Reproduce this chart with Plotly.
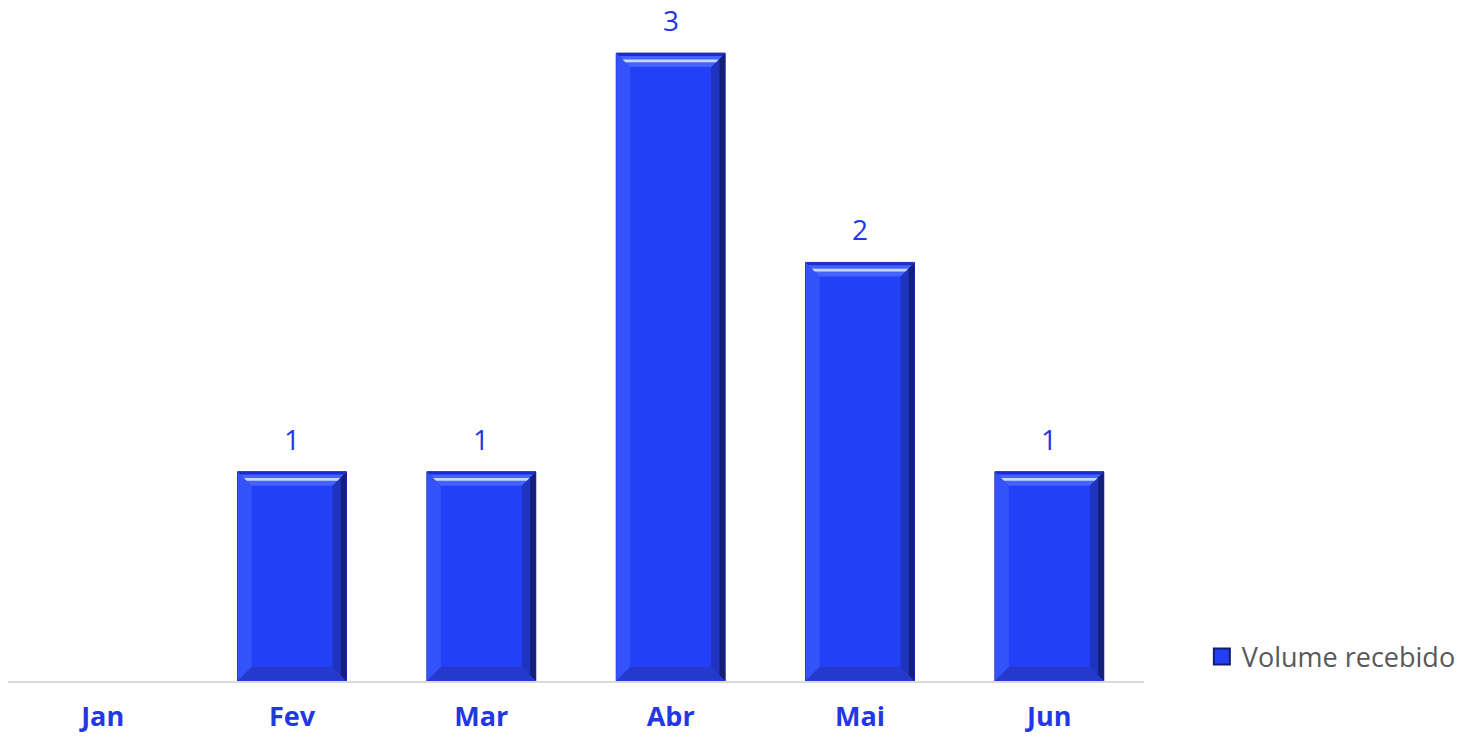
import plotly.graph_objects as go

# Monthly received volume
months = ["Jan", "Fev", "Mar", "Abr", "Mai", "Jun"]
volume = [0, 1, 1, 3, 2, 1]

series_name = "Volume recebido"

BAR_WIDTH = 0.575
FACE = "#2340F7"
LABEL_BLUE = "#2437E6"

# pixel geometry of the plot area, used to convert bevel depth into data units
PLOT_W, PLOT_H = 1137, 671
Y_MAX = 3.206
BEVEL_PX = 14
bx = BEVEL_PX / (PLOT_W / len(months))
by = BEVEL_PX / (PLOT_H / Y_MAX)

fig = go.Figure()
fig.add_trace(go.Bar(
    x=months, y=volume, name=series_name, width=BAR_WIDTH,
    marker=dict(color=FACE,
                line=dict(color="#17259A", width=[1 if v > 0 else 0 for v in volume])),
    showlegend=False, hoverinfo="x+y",
))
# legend entry with a larger square swatch
fig.add_trace(go.Scatter(
    x=[None], y=[None], mode="markers", name=series_name,
    marker=dict(symbol="square", size=16, color=FACE, line=dict(color="#101C70", width=2)),
    showlegend=True,
))


def poly(pts):
    return "M " + " L ".join(f"{x},{y}" for x, y in pts) + " Z"


shapes = []
for i, v in enumerate(volume):
    if v <= 0:
        continue
    x0, x1 = i - BAR_WIDTH / 2, i + BAR_WIDTH / 2
    y0, y1 = 0, v
    # left bevel
    shapes.append(dict(type="path", xref="x", yref="y", layer="above", line=dict(width=0),
                       fillcolor="#3553FA",
                       path=poly([(x0, y0), (x0 + bx, y0 + by), (x0 + bx, y1 - by), (x0, y1)])))
    # right bevel (shaded)
    shapes.append(dict(type="path", xref="x", yref="y", layer="above", line=dict(width=0),
                       fillcolor="#1E33BE",
                       path=poly([(x1, y0), (x1 - bx, y0 + by), (x1 - bx, y1 - by), (x1, y1)])))
    shapes.append(dict(type="path", xref="x", yref="y", layer="above", line=dict(width=0),
                       fillcolor="#141F78",
                       path=poly([(x1, y0), (x1 - bx * 0.4, y0 + by * 0.4),
                                  (x1 - bx * 0.4, y1 - by * 0.4), (x1, y1)])))
    # bottom bevel
    shapes.append(dict(type="path", xref="x", yref="y", layer="above", line=dict(width=0),
                       fillcolor="#2539CC",
                       path=poly([(x0, y0), (x1, y0), (x1 - bx, y0 + by), (x0 + bx, y0 + by)])))
    # top bevel with highlight stripe
    shapes.append(dict(type="path", xref="x", yref="y", layer="above", line=dict(width=0),
                       fillcolor="#4563FF",
                       path=poly([(x0, y1), (x1, y1), (x1 - bx, y1 - by), (x0 + bx, y1 - by)])))
    shapes.append(dict(type="path", xref="x", yref="y", layer="above", line=dict(width=0),
                       fillcolor="#C9D6FF",
                       path=poly([(x0 + bx * 0.45, y1 - by * 0.45), (x1 - bx * 0.45, y1 - by * 0.45),
                                  (x1 - bx * 0.65, y1 - by * 0.65), (x0 + bx * 0.65, y1 - by * 0.65)])))
    shapes.append(dict(type="path", xref="x", yref="y", layer="above", line=dict(width=0),
                       fillcolor="#1B30C2",
                       path=poly([(x0, y1), (x1, y1), (x1 - bx * 0.2, y1 - by * 0.2),
                                  (x0 + bx * 0.2, y1 - by * 0.2)])))

annotations = []
for m, v in zip(months, volume):
    if v <= 0:
        continue
    annotations.append(dict(x=m, y=v, text=str(v), showarrow=False, yanchor="bottom",
                            yshift=12, font=dict(family="Open Sans", size=28, color=LABEL_BLUE)))

fig.update_layout(
    width=1468, height=738,
    margin=dict(l=8, r=323, t=10, b=57),
    paper_bgcolor="white", plot_bgcolor="white",
    bargap=1 - BAR_WIDTH,
    shapes=shapes, annotations=annotations,
    legend=dict(x=1.05, y=0.036, xanchor="left", yanchor="middle",
                font=dict(family="Open Sans", size=27, color="#595959"),
                bgcolor="rgba(0,0,0,0)", itemwidth=30),
    xaxis=dict(showline=True, linecolor="#D9D9D9", linewidth=2, showgrid=False,
               ticks="", ticklabelstandoff=11, automargin=False,
               tickfont=dict(family="Open Sans", size=27, color=LABEL_BLUE, weight="bold")),
    yaxis=dict(range=[0, Y_MAX], visible=False, showgrid=False, zeroline=False,
               automargin=False),
)

fig.write_html("out.html")
